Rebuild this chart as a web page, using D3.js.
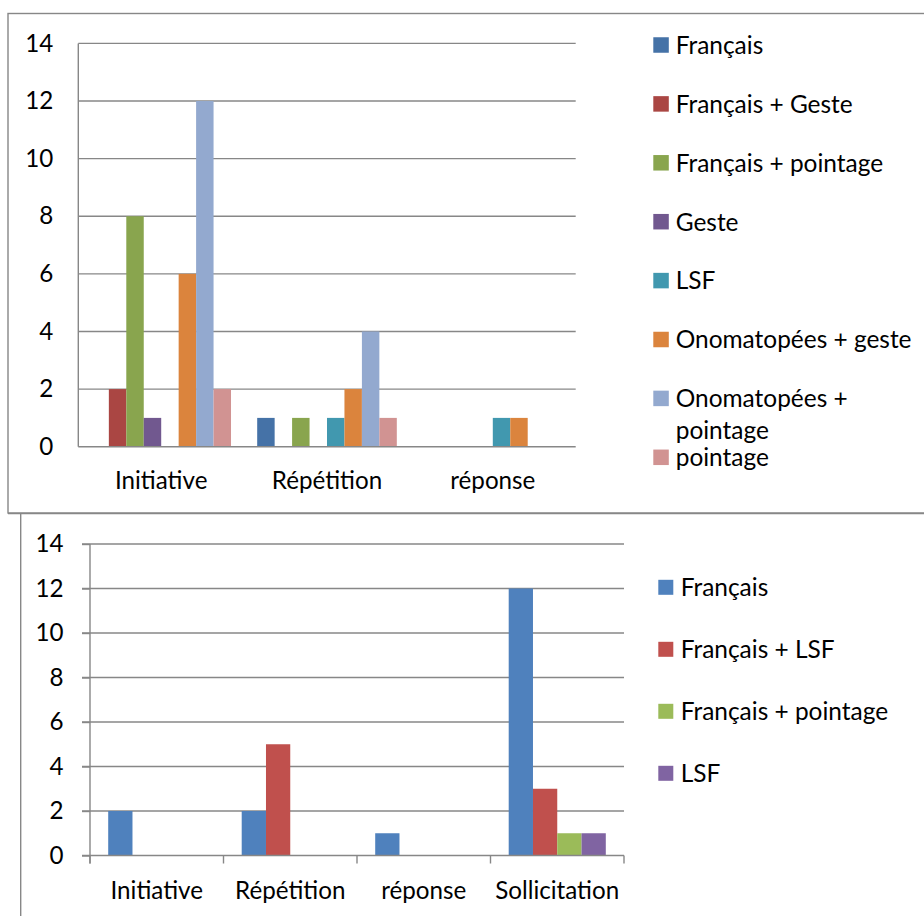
<!DOCTYPE html>
<html>
<head>
<meta charset="utf-8">
<script src="https://cdn.jsdelivr.net/npm/d3@7/dist/d3.min.js"></script>
<style>
  html, body { margin: 0; padding: 0; background: #fff; }
  svg { display: block; }
</style>
</head>
<body>
<svg id="chart" width="924" height="916"></svg>
<script>
// ---------- DATA ----------
const topCategories = ["Initiative", "Répétition", "réponse"];
const topSeries = ["Français", "Français + Geste", "Français + pointage", "Geste", "LSF",
                   "Onomatopées + geste", "Onomatopées + pointage", "pointage"];
const topValues = [
  [0, 1, 0],   // Français
  [2, 0, 0],   // Français + Geste
  [8, 1, 0],   // Français + pointage
  [1, 0, 0],   // Geste
  [0, 1, 1],   // LSF
  [6, 2, 1],   // Onomatopées + geste
  [12, 4, 0],  // Onomatopées + pointage
  [2, 1, 0]    // pointage
];
const topColors = ["#4572A7", "#AA4643", "#89A54E", "#71588F", "#4198AF", "#DB843D", "#93A9CF", "#D19392"];

const bottomCategories = ["Initiative", "Répétition", "réponse", "Sollicitation"];
const bottomSeries = ["Français", "Français + LSF", "Français + pointage", "LSF"];
const bottomValues = [
  [2, 2, 1, 12], // Français
  [0, 5, 0, 3],  // Français + LSF
  [0, 0, 0, 1],  // Français + pointage
  [0, 0, 0, 1]   // LSF
];
const bottomColors = ["#4F81BD", "#C0504D", "#9BBB59", "#8064A2"];

const yTicks = [0, 2, 4, 6, 8, 10, 12, 14];

// ---------- SETUP ----------
const FONT = "Lato, 'Open Sans', sans-serif";
const GRAY = "#878787";
const svg = d3.select("#chart");

function fit(text, target) {
  const t = svg.append("text").style("font-family", FONT).style("font-size", "100px").text(text);
  const w = t.node().getComputedTextLength();
  t.remove();
  return 100 * target / w;
}
const legendFS = fit("Français + pointage", 207.6);
const catFS = fit("Initiative", 92.5);
const tickFS = catFS;

// frames
svg.append("rect").attr("x", 8).attr("y", 13.5).attr("width", 940).attr("height", 499.5)
  .attr("fill", "none").attr("stroke", GRAY).attr("stroke-width", 1.4);
svg.append("line").attr("x1", 20.7).attr("x2", 20.7).attr("y1", 513).attr("y2", 920)
  .attr("stroke", GRAY).attr("stroke-width", 1.4);
svg.append("line").attr("x1", 8).attr("x2", 924).attr("y1", 513.5).attr("y2", 513.5)
  .attr("stroke", GRAY).attr("stroke-width", 1.4);

function drawChart(opt) {
  const g = svg.append("g");
  const x0 = d3.scaleBand().domain(opt.categories).range([opt.left, opt.right]).paddingInner(0).paddingOuter(0);
  const x1 = d3.scaleBand().domain(opt.series).range([0, x0.bandwidth()]).paddingInner(0).paddingOuter(0.75);
  const y = d3.scaleLinear().domain([0, 14]).range([opt.bottom, opt.top]);

  // gridlines
  g.append("g").selectAll("line").data(yTicks.filter(d => d > 0)).join("line")
    .attr("x1", opt.left - opt.tick).attr("x2", opt.right)
    .attr("y1", d => y(d)).attr("y2", d => y(d))
    .attr("stroke", GRAY).attr("stroke-width", 1.4);

  // bars
  opt.series.forEach((s, si) => {
    g.append("g").attr("fill", opt.colors[si]).selectAll("rect")
      .data(opt.categories.map((c, ci) => ({ c, v: opt.values[si][ci] })).filter(d => d.v > 0))
      .join("rect")
      .attr("x", d => x0(d.c) + x1(s))
      .attr("width", x1.bandwidth())
      .attr("y", d => y(d.v))
      .attr("height", d => y(0) - y(d.v));
  });

  // y axis
  const yAxis = d3.axisLeft(y).tickValues(yTicks).tickSize(opt.tick).tickPadding(opt.tickPad);
  const ya = g.append("g").attr("transform", `translate(${opt.left},0)`).call(yAxis);
  ya.select(".domain").remove();
  ya.selectAll(".tick line").attr("stroke", GRAY).attr("stroke-width", 1.4);
  ya.selectAll(".tick text").style("font-family", FONT).style("font-size", tickFS + "px").attr("fill", "#000");
  g.append("line").attr("x1", opt.left).attr("x2", opt.left).attr("y1", opt.top).attr("y2", opt.bottom + (opt.xTicks ? opt.tick : 0))
    .attr("stroke", GRAY).attr("stroke-width", 1.4);

  // x axis line
  g.append("line").attr("x1", opt.left - opt.tick).attr("x2", opt.right).attr("y1", y(0)).attr("y2", y(0))
    .attr("stroke", GRAY).attr("stroke-width", 1.4);
  if (opt.xTicks) {
    const bounds = opt.categories.map(c => x0(c)).concat([opt.right]);
    g.append("g").selectAll("line").data(bounds).join("line")
      .attr("x1", d => d).attr("x2", d => d).attr("y1", y(0)).attr("y2", y(0) + opt.tick)
      .attr("stroke", GRAY).attr("stroke-width", 1.4);
  }
  g.append("g").selectAll("text").data(opt.categories).join("text")
    .attr("x", d => x0(d) + x0.bandwidth() / 2).attr("y", y(0) + opt.labelDy)
    .attr("text-anchor", "middle").style("font-family", FONT).style("font-size", catFS + "px")
    .attr("fill", "#000").text(d => d);

  // legend
  const lg = g.append("g");
  opt.series.forEach((s, i) => {
    const cy = opt.legTop + i * opt.legStep;
    lg.append("rect").attr("x", opt.legX).attr("y", cy - opt.sq / 2).attr("width", opt.sq).attr("height", opt.sq)
      .attr("fill", opt.colors[i]);
    const lines = (opt.wrap && opt.wrap[s]) || [s];
    lines.forEach((ln, li) => {
      lg.append("text").attr("x", opt.legTextX).attr("y", cy + li * 32).attr("dy", "0.36em")
        .style("font-family", FONT).style("font-size", legendFS + "px").attr("fill", "#000").text(ln);
    });
  });
}

drawChart({
  categories: topCategories, series: topSeries, values: topValues, colors: topColors,
  left: 78.3, right: 575.7, top: 43.4, bottom: 446.7, tick: 0, tickPad: 25, xTicks: false,
  labelDy: 42.6, legX: 653.3, legTextX: 675.7, sq: 15.5, legTop: 45, legStep: 58.9,
  wrap: { "Onomatopées + pointage": ["Onomatopées +", "pointage"] }
});

drawChart({
  categories: bottomCategories, series: bottomSeries, values: bottomValues, colors: bottomColors,
  left: 90, right: 624, top: 544, bottom: 855.5, tick: 8, tickPad: 18.5, xTicks: true,
  labelDy: 43.8, legX: 658.3, legTextX: 680.7, sq: 15, legTop: 587.3, legStep: 62
});
</script>
</body>
</html>
